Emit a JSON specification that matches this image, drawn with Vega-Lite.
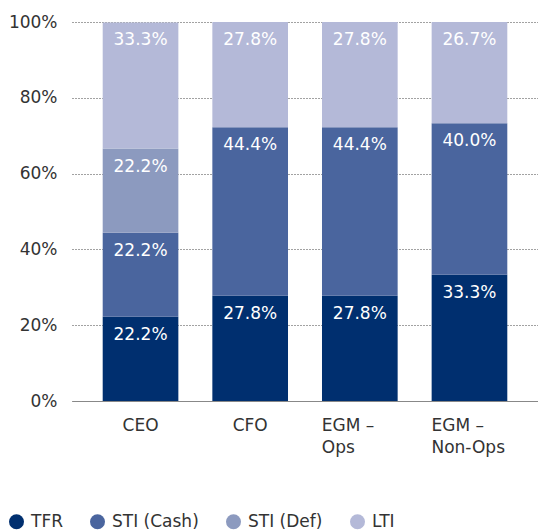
{
  "$schema": "https://vega.github.io/schema/vega-lite/v6.json",
  "autosize": "none",
  "width": 466,
  "height": 379,
  "padding": {"left": 72, "top": 22, "right": 0, "bottom": 130},
  "config": {
    "view": {"stroke": null},
    "font": "DejaVu Sans",
    "axis": {"labelFont": "DejaVu Sans", "labelColor": "#333333", "titleFont": "DejaVu Sans"},
    "legend": {"labelFont": "DejaVu Sans"}
  },
  "data": {
    "values": [
      {"role": "CEO", "component": "TFR", "order": 1, "value": 22.2},
      {"role": "CEO", "component": "STI (Cash)", "order": 2, "value": 22.2},
      {"role": "CEO", "component": "STI (Def)", "order": 3, "value": 22.2},
      {"role": "CEO", "component": "LTI", "order": 4, "value": 33.3},
      {"role": "CFO", "component": "TFR", "order": 1, "value": 27.8},
      {"role": "CFO", "component": "STI (Cash)", "order": 2, "value": 44.4},
      {"role": "CFO", "component": "LTI", "order": 4, "value": 27.8},
      {"role": "EGM – Ops", "component": "TFR", "order": 1, "value": 27.8},
      {"role": "EGM – Ops", "component": "STI (Cash)", "order": 2, "value": 44.4},
      {"role": "EGM – Ops", "component": "LTI", "order": 4, "value": 27.8},
      {"role": "EGM – Non-Ops", "component": "TFR", "order": 1, "value": 33.3},
      {"role": "EGM – Non-Ops", "component": "STI (Cash)", "order": 2, "value": 40.0},
      {"role": "EGM – Non-Ops", "component": "LTI", "order": 4, "value": 26.7}
    ]
  },
  "transform": [
    {"stack": "value", "groupby": ["role"], "sort": [{"field": "order", "order": "ascending"}], "as": ["y0", "y1"]},
    {"calculate": "format(datum.value, '.1f') + '%'", "as": "lbl"}
  ],
  "encoding": {
    "x": {
      "field": "role",
      "type": "nominal",
      "sort": ["CEO", "CFO", "EGM – Ops", "EGM – Non-Ops"],
      "scale": {"paddingInner": 0.31, "paddingOuter": 0.28},
      "axis": {
        "title": null,
        "labelAngle": 0,
        "labelFontSize": 17,
        "labelPadding": 16,
        "ticks": false,
        "domainColor": "#888888",
        "domainWidth": 1.2,
        "labelLineHeight": 22,
        "labelExpr": "indexof(datum.label,'–')>0 ? [slice(datum.label,0,5), slice(datum.label,6)] : datum.label",
        "labelAlign": {"condition": {"test": "indexof(datum.label,'EGM')>=0", "value": "left"}, "value": "center"},
        "labelOffset": {"condition": {"test": "indexof(datum.label,'EGM')>=0", "value": -38}, "value": 0}
      }
    }
  },
  "layer": [
    {
      "mark": {"type": "bar"},
      "encoding": {
        "y": {
          "field": "y0",
          "type": "quantitative",
          "scale": {"domain": [0, 100]},
          "axis": {
            "title": null,
            "values": [0, 20, 40, 60, 80, 100],
            "labelExpr": "datum.value + '%'",
            "labelFontSize": 17,
            "labelPadding": 15,
            "labelOverlap": false,
            "ticks": false,
            "domain": false,
            "gridColor": "#444444",
            "gridDash": [1, 2],
            "gridWidth": 1
          }
        },
        "y2": {"field": "y1"},
        "color": {
          "field": "component",
          "type": "nominal",
          "scale": {
            "domain": ["TFR", "STI (Cash)", "STI (Def)", "LTI"],
            "range": ["#002f6f", "#4a659e", "#8c9abf", "#b4b9d8"]
          },
          "legend": {
            "title": null,
            "orient": "none",
            "direction": "horizontal",
            "legendX": -64,
            "legendY": 491,
            "symbolType": "circle",
            "symbolSize": 225,
            "symbolStrokeWidth": 0,
            "labelFontSize": 17,
            "labelColor": "#333333",
            "columnPadding": 26,
            "labelOffset": 6
          }
        }
      }
    },
    {
      "mark": {"type": "text", "color": "white", "fontSize": 17, "baseline": "middle", "dy": 18},
      "encoding": {
        "y": {"field": "y1", "type": "quantitative"},
        "text": {"field": "lbl", "type": "nominal"}
      }
    }
  ]
}
